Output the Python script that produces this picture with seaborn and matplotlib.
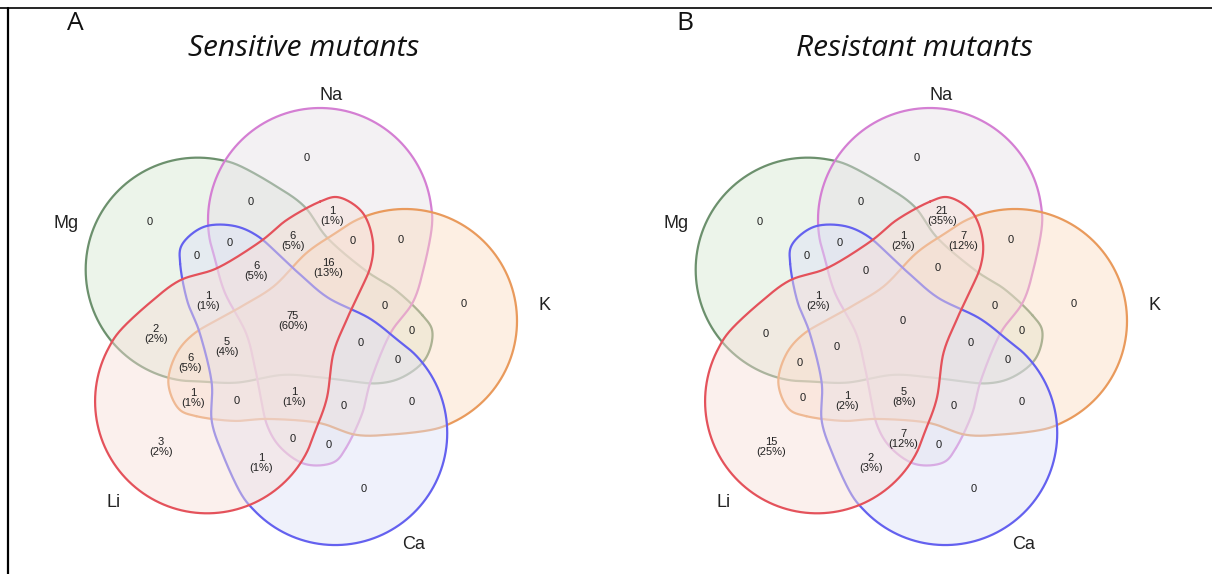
import numpy as np
import matplotlib
matplotlib.use("Agg")
import matplotlib.pyplot as plt
from matplotlib.path import Path
import seaborn as sns

# --- data ---
set_names = ["Na", "K", "Ca", "Li", "Mg"]
line_colors = ["#d47fd3", "#e99a5c", "#6461ef", "#e4525b", "#6c906d"]
fill_colors = ["#e6e0e6", "#fbdcc2", "#dde2f8", "#f7dfd8", "#d6e8d1"]

region_keys = [
    "Na", "K", "Ca", "Li", "Mg",
    "Na&K", "Na&Ca", "Na&Li", "Na&Mg", "K&Ca", "K&Li", "K&Mg", "Ca&Li", "Ca&Mg", "Li&Mg",
    "Na&K&Ca", "Na&K&Li", "Na&K&Mg", "Na&Ca&Li", "Na&Ca&Mg", "Na&Li&Mg",
    "K&Ca&Li", "K&Ca&Mg", "K&Li&Mg", "Ca&Li&Mg",
    "Na&K&Ca&Li", "Na&K&Ca&Mg", "Na&K&Li&Mg", "Na&Ca&Li&Mg", "K&Ca&Li&Mg",
    "Na&K&Ca&Li&Mg",
]
sensitive_counts = [0, 0, 0, 3, 0,
                    0, 0, 1, 0, 0, 1, 0, 1, 0, 2,
                    0, 0, 0, 0, 0, 6,
                    0, 0, 6, 1,
                    1, 0, 16, 6, 5,
                    75]
resistant_counts = [0, 0, 0, 15, 0,
                    0, 0, 21, 0, 0, 0, 0, 2, 0, 0,
                    0, 7, 0, 7, 0, 1,
                    1, 0, 0, 1,
                    5, 0, 0, 0, 0,
                    0]
panel_titles = ["Sensitive mutants", "Resistant mutants"]
panel_letters = ["A", "B"]

# --- layout ---
centres = [(293, 329), (903, 329)]
label_angle = [-80.8, -5.4, 60.9, 136.0, 205.0]
label_dist = [237, 253, 247, 250, 250]

# one petal (Na), relative to the diagram centre, pixels, y down:
# round head + narrowing tail
head_c, head_r = (27, -109), 112
head = [(head_c[0] + head_r * np.cos(np.deg2rad(t)), head_c[1] + head_r * np.sin(np.deg2rad(t)))
        for t in range(160, 366, 12)]
template = ([(53, 119), (39, 134), (12, 135), (-12, 119), (-26, 96), (-33, 64), (-38, 39),
             (-47, 4), (-68, -36)] + head +
            [(131, -62), (120, -27), (97, 5), (78, 51), (69, 85)])


def smooth_closed(pts, n=30):
    p = np.asarray(pts, float)
    m = len(p)
    t = np.linspace(0, 1, n, endpoint=False)[:, None]
    segs = []
    for i in range(m):
        p0, p1, p2, p3 = p[i - 1], p[i], p[(i + 1) % m], p[(i + 2) % m]
        segs.append(0.5 * (2 * p1 + (-p0 + p2) * t + (2 * p0 - 5 * p1 + 4 * p2 - p3) * t ** 2
                           + (-p0 + 3 * p1 - 3 * p2 + p3) * t ** 3))
    out = np.vstack(segs)
    return np.vstack([out, out[:1]])


def petal(k):
    a = np.deg2rad(72 * k)
    base = smooth_closed(template)
    x = base[:, 0] * np.cos(a) - base[:, 1] * np.sin(a)
    y = base[:, 0] * np.sin(a) + base[:, 1] * np.cos(a)
    return np.column_stack([x, y])


shapes = [petal(k) for k in range(5)]

# --- label spots from region geometry ---
xs = np.arange(-260, 261)
ys = np.arange(-260, 261)
gx, gy = np.meshgrid(xs, ys)
grid = np.column_stack([gx.ravel(), gy.ravel()])
inside = [Path(s).contains_points(grid).reshape(gx.shape) for s in shapes]


def label_spot(mask):
    cur = mask
    while True:
        nxt = cur.copy()
        nxt[1:, :] &= cur[:-1, :]
        nxt[:-1, :] &= cur[1:, :]
        nxt[:, 1:] &= cur[:, :-1]
        nxt[:, :-1] &= cur[:, 1:]
        if not nxt.any():
            break
        cur = nxt
    iy, ix = np.nonzero(cur)
    k = np.argmin((iy - iy.mean()) ** 2 + (ix - ix.mean()) ** 2)
    return xs[ix[k]], ys[iy[k]]


spots = []
for key in region_keys:
    members = key.split("&")
    m = np.ones(gx.shape, bool)
    for name, ins in zip(set_names, inside):
        m &= ins if name in members else ~ins
    spots.append(label_spot(m) if m.any() else (0, 0))

# --- figure ---
sns.set_theme(style="white")
plt.rcParams["font.family"] = ["Liberation Sans", "DejaVu Sans"]

fig = plt.figure(figsize=(12.12, 5.74), dpi=100)
ax = fig.add_axes([0, 0, 1, 1])
ax.set_xlim(0, 1212)
ax.set_ylim(574, 0)
ax.axis("off")

ax.plot([0, 1212], [8, 8], color="black", lw=1.2)
ax.plot([8, 8], [8, 574], color="black", lw=1.6)

draw_order = [4, 0, 1, 2, 3]   # Mg, Na, K, Ca, Li
for (cx, cy), counts, title, letter in zip(centres, [sensitive_counts, resistant_counts],
                                            panel_titles, panel_letters):
    total = sum(counts)
    for z, k in enumerate(draw_order):
        s = shapes[k]
        ax.fill(s[:, 0] + cx, s[:, 1] + cy, color=fill_colors[k], alpha=0.45, lw=0, zorder=2 + 2 * z)
        ax.plot(s[:, 0] + cx, s[:, 1] + cy, color=line_colors[k], lw=1.6, zorder=3 + 2 * z)

    for (sx, sy), v in zip(spots, counts):
        txt = f"{v}\n({round(100 * v / total)}%)" if v > 0 else "0"
        ax.text(sx + cx, sy + cy, txt, ha="center", va="center", fontsize=8,
                linespacing=1.0, color="#222222", zorder=20)

    for name, ang, dist in zip(set_names, label_angle, label_dist):
        a = np.deg2rad(ang)
        ax.text(cx + dist * np.cos(a), cy + dist * np.sin(a), name, ha="center", va="center",
                fontsize=13, color="#222222", zorder=20)

    ax.text(cx + 11, 48, title, ha="center", va="center", fontsize=21.5, fontstyle="italic",
            family=["Open Sans", "DejaVu Sans"], color="#111111", zorder=20)
    ax.text(cx - 218, 23, letter, ha="center", va="center", fontsize=19,
            family=["Open Sans", "DejaVu Sans"], color="#111111", zorder=20)

fig.savefig("out.png", dpi=100)
plt.close(fig)
